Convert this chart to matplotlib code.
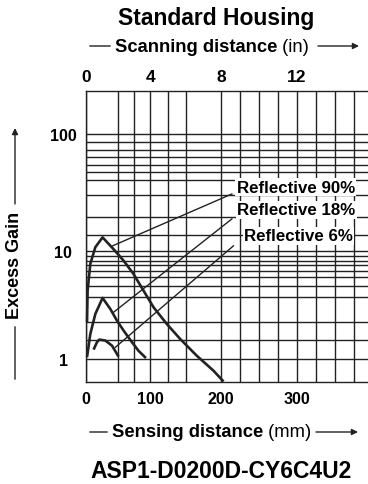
import numpy as np
import matplotlib
matplotlib.use("Agg")
import matplotlib.pyplot as plt

plt.rcParams['font.family'] = ['Liberation Sans', 'DejaVu Sans']

# curves: sensing distance (mm) vs excess gain
x90 = [1.6, 2.5, 6.7, 14.5, 25.8, 42.9, 58.5, 74, 89.6, 104.7, 123.6, 142.4, 166, 189.5, 203.5]
y90 = [2.18, 4.27, 7.54, 10.7, 13.0, 10.3, 8.09, 6.09, 4.27, 3.0, 2.1, 1.53, 1.07, 0.78, 0.62]
x18 = [1.6, 6.7, 14.5, 25.8, 37.8, 48.2, 58.5, 71.5, 81.8, 93.3]
y18 = [1.04, 1.70, 2.60, 3.66, 2.90, 2.26, 1.83, 1.43, 1.19, 1.02]
x6 = [11.8, 17.1, 20.7, 30, 40.4, 50.7]
y6 = [1.22, 1.43, 1.51, 1.48, 1.33, 1.05]

labels = ['Reflective 90%', 'Reflective 18%', 'Reflective 6%']
lead_from = [(41.4, 11.0), (42.9, 2.70), (45.6, 1.28)]
lead_to = [(214.5, 30.6), (214.5, 18.7), (216.6, 11.0)]
label_at = [(221, 34.9), (221.4, 22.4), (230.7, 13.4)]

x_ticks = [0, 100, 200, 300]
in_ticks = [0, 4, 8, 12]
x_grid = [50, 75, 125, 150, 225, 250, 275, 325, 350, 375]
y_ticks = [1, 10, 100]
y_grid = [1.5, 2.2, 3.7, 4.75, 5.7, 6.5, 7.3, 8.1, 9, 13.5, 19.3, 30, 40, 47, 54, 63, 73, 85]

# the printed chart is not evenly spaced, so use piecewise scales
mm_k = np.array([-1000, 0, 100, 200, 300, 2000.])
px_k = np.array([-643, 0, 64.3, 135, 211, 211 + 1700 * 0.76])


def xf(v):
    return np.interp(v, mm_k, px_k)


def xi(v):
    return np.interp(v, px_k, mm_k)


def yf(v):
    lv = np.log10(np.clip(v, 1e-9, None))
    return np.where(lv <= 1, lv * 108.3, 108.3 + (lv - 1) * 116.7)


def yi(v):
    v = np.asarray(v, dtype=float)
    return np.where(v <= 108.3, 10 ** (v / 108.3), 10 ** (1 + (v - 108.3) / 116.7))


fig = plt.figure(figsize=(3.68, 4.85), dpi=100)
ax = fig.add_axes([86 / 368, 1 - 382.7 / 485, 1 - 86 / 368, (382.7 - 92.3) / 485])
ax.set_xscale('function', functions=(xf, xi))
ax.set_yscale('function', functions=(yf, yi))
ax.set_xlim(0, 393.8)
ax.set_ylim(0.617, 232)

ax.set_xticks(x_ticks)
ax.set_xticks(x_grid, minor=True)
ax.set_yticks(y_ticks)
ax.set_yticks(y_grid, minor=True)
ax.set_yticklabels([str(v) for v in y_ticks])
ax.grid(which='both', color='#222222', lw=1.0)
ax.tick_params(which='both', length=0)
ax.tick_params(axis='x', pad=7, labelsize=11.5)
ax.tick_params(axis='y', pad=16.5, labelsize=11.5)
for lab in ax.get_xticklabels() + ax.get_yticklabels():
    lab.set_fontweight('bold')
for lab in ax.get_yticklabels():
    lab.set_ha('center')
for sp in ax.spines.values():
    sp.set_linewidth(1.0)
    sp.set_color('#222222')
ax.spines['right'].set_visible(False)

top = ax.twiny()
top.set_xscale('function', functions=(xf, xi))
top.set_xlim(ax.get_xlim())
top.set_xticks([t * 25 for t in in_ticks])
top.set_xticklabels([str(t) for t in in_ticks], fontweight='bold', fontsize=12.5)
top.tick_params(length=0, pad=5)
for sp in top.spines.values():
    sp.set_visible(False)

for xs, ys in [(x90, y90), (x18, y18), (x6, y6)]:
    ax.plot(xs, ys, color='#222222', lw=1.9, solid_capstyle='butt', zorder=4, clip_on=False)

for lab, a, b, t in zip(labels, lead_from, lead_to, label_at):
    ax.plot([a[0], b[0]], [a[1], b[1]], color='#222222', lw=1.0, zorder=4)
    ax.text(t[0], t[1], lab, fontsize=12.2, fontweight='bold', ha='left', va='center', zorder=5,
            bbox=dict(facecolor='white', edgecolor='none', pad=1.0))

fig.text(216 / 368, 1 - 18 / 485, 'Standard Housing', ha='center', va='center',
         fontsize=16.5, fontweight='bold')

# axis captions with arrows
def caption(y, bold, plain, xl, x0, x1, xr):
    yy = 485 - y
    t1 = fig.text(x0 / 368, yy / 485, bold, fontsize=13.2, fontweight='bold', va='center')
    ax.annotate(plain, xy=(1, 0), xycoords=t1, va='bottom', fontsize=13.2)
    ax.annotate('', xy=(xl, yy), xytext=(x0 - 2, yy), xycoords='figure pixels',
                arrowprops=dict(arrowstyle='-', lw=1.0, color='#222222'))
    ax.annotate('', xy=(xr, yy), xytext=(x1, yy), xycoords='figure pixels',
                arrowprops=dict(arrowstyle='-|>', lw=1.0, color='#222222', mutation_scale=9,
                                shrinkA=0, shrinkB=0))


caption(47, 'Scanning distance', ' (in)', 87, 115, 318, 359)
caption(433, 'Sensing distance', ' (mm)', 87, 112, 316, 358)

fig.text(15 / 368, 1 - 265 / 485, 'Excess Gain', rotation=90, ha='center', va='center',
         fontsize=13, fontweight='bold')
ax.annotate('', xy=(15, 485 - 325), xytext=(15, 485 - 383), xycoords='figure pixels',
            arrowprops=dict(arrowstyle='-', lw=1.0, color='#222222'))
ax.annotate('', xy=(15, 485 - 129), xytext=(15, 485 - 205), xycoords='figure pixels',
            arrowprops=dict(arrowstyle='-|>', lw=1.0, color='#222222', mutation_scale=9,
                            shrinkA=0, shrinkB=0))

fig.text(221 / 368, 1 - 472 / 485, 'ASP1-D0200D-CY6C4U2', ha='center', va='center',
         fontsize=16.5, fontweight='bold')

fig.savefig('out.png', dpi=100)
